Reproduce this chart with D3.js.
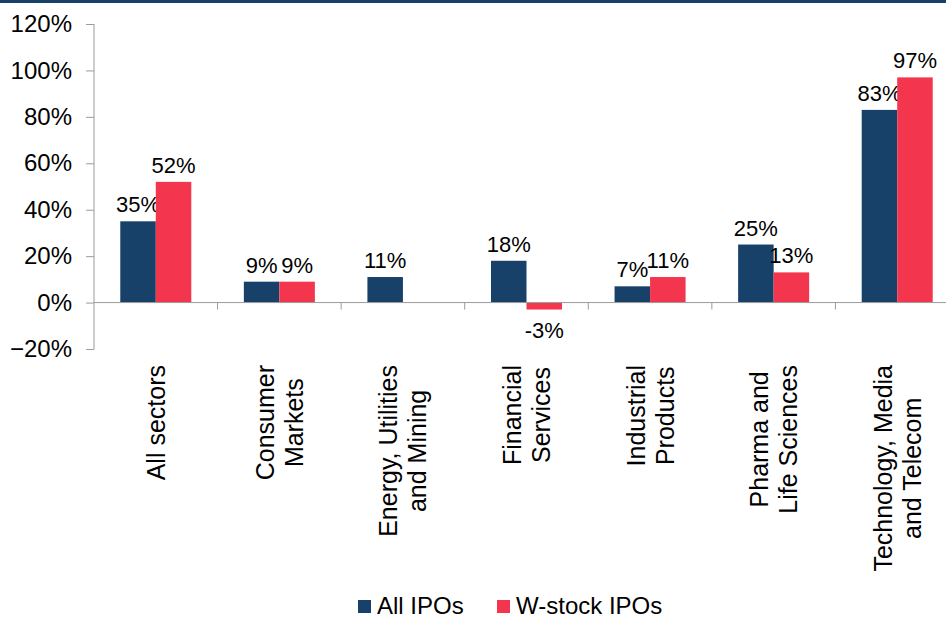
<!DOCTYPE html>
<html>
<head>
<meta charset="utf-8">
<script src="https://cdn.jsdelivr.net/npm/d3@7"></script>
<style>
  body { margin: 0; background: #fff; }
  svg text { font-family: "Liberation Sans", Arial, sans-serif; fill: #000; }
</style>
</head>
<body>
<div id="root"></div>
<script>
// categories (multi-line labels split on "|")
const categories = [
  "All sectors",
  "Consumer|Markets",
  "Energy, Utilities|and Mining",
  "Financial|Services",
  "Industrial|Products",
  "Pharma and|Life Sciences",
  "Technology, Media|and Telecom"
];
const seriesNames = ["All IPOs", "W-stock IPOs"];
const allIPOs = [0.35, 0.09, 0.11, 0.18, 0.07, 0.25, 0.83];
const wStockIPOs = [0.52, 0.09, null, -0.03, 0.11, 0.13, 0.97];
const yTicks = [-0.2, 0, 0.2, 0.4, 0.6, 0.8, 1.0, 1.2];

const colors = ["#174169", "#F3364E"];
const width = 946, height = 620;

const svg = d3.select("#root").append("svg")
  .attr("width", width)
  .attr("height", height);

// top band
svg.append("rect").attr("x", 0).attr("y", 0)
  .attr("width", width).attr("height", 3).attr("fill", "#174169");

const x = d3.scaleBand().domain(categories).range([94, 959]).padding(0);
const x1 = d3.scaleBand().domain(seriesNames).range([0, x.bandwidth()]).paddingOuter(0.74);
const y = d3.scaleLinear().domain([-0.2, 1.2]).range([349, 24]);

// y axis
const yAxis = svg.append("g")
  .attr("transform", "translate(94,0)")
  .call(d3.axisLeft(y).tickValues(yTicks).tickFormat(d3.format(".0%")).tickSize(8).tickPadding(14));
yAxis.selectAll("path, line").attr("stroke", "#9b9b9b");
yAxis.select(".domain").attr("d", `M0,${y(1.2)}V${y(-0.2)}`);
yAxis.selectAll("text").style("font-size", "24px").attr("fill", "#000");

// bars
const rows = categories.map((c, i) => ({ cat: c, vals: [allIPOs[i], wStockIPOs[i]] }));
const groups = svg.selectAll(".grp").data(rows).join("g")
  .attr("class", "grp")
  .attr("transform", d => `translate(${x(d.cat)},0)`);

const cells = groups.selectAll(".cell")
  .data(d => d.vals.map((v, k) => ({ name: seriesNames[k], v: v, k: k })).filter(e => e.v !== null))
  .join("g").attr("class", "cell");

cells.append("rect")
  .attr("x", d => x1(d.name))
  .attr("width", x1.bandwidth())
  .attr("y", d => y(Math.max(0, d.v)))
  .attr("height", d => Math.abs(y(d.v) - y(0)))
  .attr("fill", d => colors[d.k]);

cells.append("text")
  .attr("x", d => x1(d.name) + x1.bandwidth() / 2)
  .attr("y", d => d.v >= 0 ? y(d.v) - 9 : y(d.v) + 28)
  .attr("text-anchor", "middle")
  .style("font-size", "22px")
  .text(d => Math.round(d.v * 100) + "%");

// x axis line at zero with boundary ticks
const axisColor = "#9b9b9b";
svg.append("line")
  .attr("x1", 94).attr("x2", width)
  .attr("y1", y(0)).attr("y2", y(0))
  .attr("stroke", axisColor);
svg.selectAll(".xtick").data(categories.slice(1)).join("line")
  .attr("class", "xtick")
  .attr("x1", d => x(d)).attr("x2", d => x(d))
  .attr("y1", y(0)).attr("y2", y(0) + 7)
  .attr("stroke", axisColor);

// category labels, rotated
const lh = 29;
const labels = svg.selectAll(".clab").data(categories).join("g")
  .attr("class", "clab")
  .attr("transform", d => `translate(${x(d) + x.bandwidth() / 2 + 9},365) rotate(-90)`);
labels.each(function (d) {
  const g = d3.select(this);
  const lines = d.split("|");
  const texts = lines.map((ln, i) => g.append("text")
    .attr("y", (i - (lines.length - 1) / 2) * lh)
    .attr("text-anchor", "middle")
    .style("font-size", "25px")
    .text(ln));
  const maxW = d3.max(texts, t => t.node().getComputedTextLength());
  texts.forEach(t => t.attr("x", -maxW / 2));
});

// legend (nudged up a little so the text is not clipped)
const legendX = [358, 497];
const legend = svg.selectAll(".leg").data(seriesNames).join("g")
  .attr("class", "leg")
  .attr("transform", (d, i) => `translate(${legendX[i]},600)`);
legend.append("rect").attr("width", 13).attr("height", 13)
  .attr("fill", (d, i) => colors[i]);
legend.append("text").attr("x", 19).attr("y", 14)
  .style("font-size", "24px")
  .text(d => d);
</script>
</body>
</html>
